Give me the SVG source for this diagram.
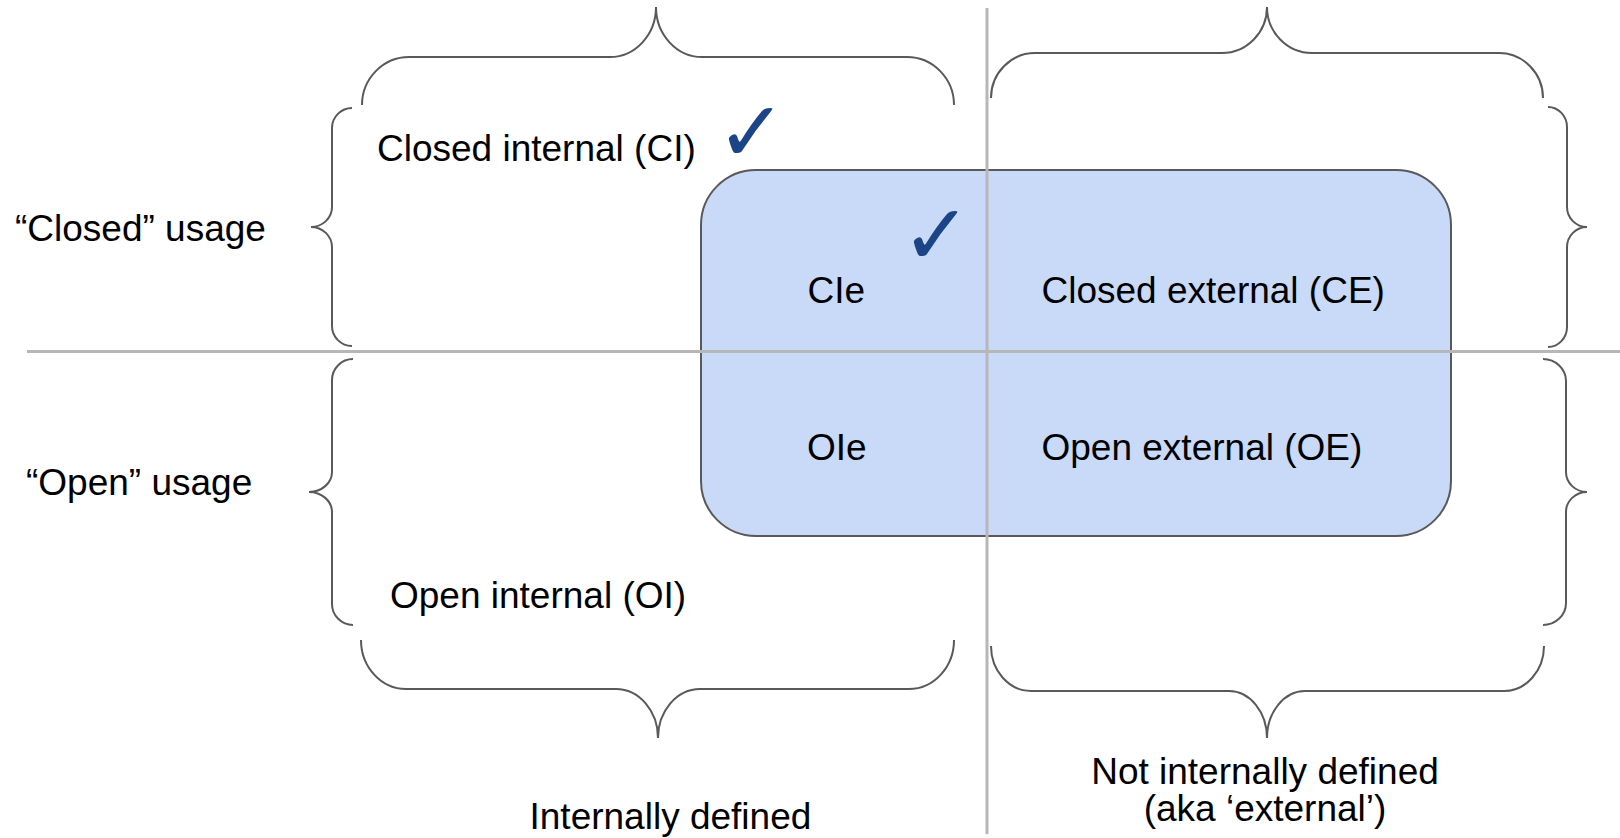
<svg xmlns="http://www.w3.org/2000/svg" width="1620" height="838" viewBox="0 0 1620 838">
  <style>
    .lbl { font-family: "Liberation Sans", Arial, sans-serif; font-size: 37px; fill: #000000; }
    .brace { fill: none; stroke: #595959; stroke-width: 2; }
    .axis { stroke: #b7b7b7; stroke-width: 3; }
    .tick { font-family: "DejaVu Sans", sans-serif; font-size: 84px; font-weight: bold; fill: #1c4587; text-anchor: middle; }
  </style>
  <rect width="1620" height="838" fill="#ffffff"/>

  <!-- shaded region spanning CIe / CE / OIe / OE -->
  <g id="external-region">
    <rect x="701" y="170" width="750" height="366" rx="55" ry="55" fill="#c9daf8" stroke="#595959" stroke-width="2"/>
  </g>

  <!-- braces grouping the quadrants -->
  <g id="braces">
    <path id="brace-top-internal" class="brace" d="M362,105 C362,78.6 383.2,57 409,57 L610,57 C635.3,57 656,34.5 656,7 C656,34.5 676.7,57 702,57 L907,57 C932.9,57 954,78.6 954,105"/>
    <path id="brace-top-external" class="brace" d="M991,98 C991,73.25 1010.8,53 1035,53 L1222,53 C1246.75,53 1267,32.3 1267,7 C1267,32.3 1287.25,53 1312,53 L1499,53 C1523.2,53 1543,73.25 1543,98"/>
    <path id="brace-bottom-internal" class="brace" d="M361,640 C361,667 381.25,689 406,689 L616,689 C639.1,689 658,711 658,738 C658,711 676.9,689 700,689 L909,689 C933.75,689 954,667 954,640"/>
    <path id="brace-bottom-external" class="brace" d="M991,646 C991,670.75 1009,691 1031,691 L1229,691 C1249.9,691 1267,712.15 1267,738 C1267,712.15 1284.1,691 1305,691 L1504,691 C1526,691 1544,670.75 1544,646"/>
    <path id="brace-left-closed" class="brace" d="M352,108 C341,108 332,117 332,128 L332,207 C332,218 322.55,227 311,227 C322.55,227 332,236 332,247 L332,326 C332,337 341,346 352,346"/>
    <path id="brace-left-open" class="brace" d="M353,359 C341.45,359 332,368.45 332,380 L332,472 C332,483 321.65,492 309,492 C321.65,492 332,501 332,512 L332,604 C332,615.55 341.45,625 353,625"/>
    <path id="brace-right-closed" class="brace" d="M1548,107 C1558.45,107 1567,116 1567,127 L1567,207 C1567,218 1576,227 1587,227 C1576,227 1567,236 1567,247 L1567,327 C1567,338 1558.45,347 1548,347"/>
    <path id="brace-right-open" class="brace" d="M1543,359 C1555.65,359 1566,368.9 1566,381 L1566,472 C1566,483 1575.45,492 1587,492 C1575.45,492 1566,501 1566,512 L1566,603 C1566,615.1 1555.65,625 1543,625"/>
  </g>

  <!-- quadrant dividers -->
  <g id="connectors">
    <line class="axis" x1="27" y1="351.5" x2="1620" y2="351.5"/>
    <line class="axis" x1="987" y1="8" x2="987" y2="834"/>
  </g>

  <!-- row / column headings -->
  <g id="row-closed"><text class="lbl" x="15" y="241">“Closed” usage</text></g>
  <g id="row-open"><text class="lbl" x="26" y="495">“Open” usage</text></g>
  <g id="col-internal"><text class="lbl" x="529.5" y="829">Internally defined</text></g>
  <g id="col-external">
    <text class="lbl" x="1265" y="784" text-anchor="middle">Not internally defined</text>
    <text class="lbl" x="1265" y="821" text-anchor="middle">(aka ‘external’)</text>
  </g>

  <!-- quadrant cells -->
  <g id="cell-ci">
    <text class="lbl" x="377" y="161">Closed internal (CI)</text>
    <text class="tick" x="751.5" y="161">✓</text>
  </g>
  <g id="cell-cie">
    <text class="lbl" x="807.5" y="303">CIe</text>
    <text class="tick" x="936.5" y="264">✓</text>
  </g>
  <g id="cell-ce"><text class="lbl" x="1041.5" y="303">Closed external (CE)</text></g>
  <g id="cell-oie"><text class="lbl" x="807" y="460">OIe</text></g>
  <g id="cell-oe"><text class="lbl" x="1041.5" y="460">Open external (OE)</text></g>
  <g id="cell-oi"><text class="lbl" x="390" y="608">Open internal (OI)</text></g>
</svg>
